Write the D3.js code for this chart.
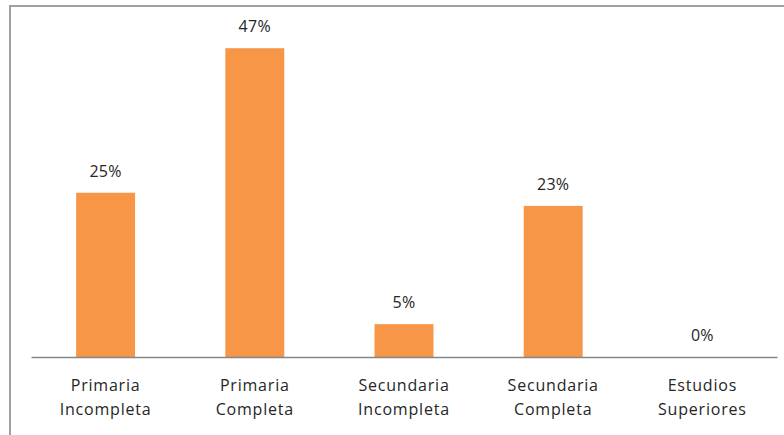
<!DOCTYPE html>
<html><head><meta charset="utf-8">
<script src="https://cdn.jsdelivr.net/npm/d3@7"></script>
<style>html,body{margin:0;padding:0;background:#fff;}svg{display:block;}</style>
</head><body>
<svg id="chart" width="784" height="435"></svg>
<script>
const categories = [["Primaria","Incompleta"],["Primaria","Completa"],["Secundaria","Incompleta"],["Secundaria","Completa"],["Estudios","Superiores"]];
const values = [25, 47, 5, 23, 0];
const valueLabels = ["25%","47%","5%","23%","0%"];

const svg = d3.select("#chart");
const baseY = 357;

// outer frame
svg.append("rect").attr("x", 10).attr("y", 6).attr("width", 800).attr("height", 500)
  .attr("fill", "none").attr("stroke", "#a0a0a0").attr("stroke-width", 2);

const x = d3.scaleBand().domain(d3.range(categories.length))
  .range([31, 777]).paddingInner(0.605).paddingOuter(0.3025);
const y = d3.scaleLinear().domain([0, 50]).range([baseY, baseY - 50 * 6.57]);

const font = "'Open Sans', 'DejaVu Sans', sans-serif";

svg.selectAll("rect.bar").data(values).enter().append("rect")
  .attr("class", "bar")
  .attr("x", (d, i) => x(i))
  .attr("width", x.bandwidth())
  .attr("y", d => y(d))
  .attr("height", d => baseY - y(d))
  .attr("fill", "#F79646");

svg.selectAll("text.val").data(values).enter().append("text")
  .attr("class", "val")
  .attr("x", (d, i) => x(i) + x.bandwidth() / 2)
  .attr("y", d => y(d) - 16)
  .attr("text-anchor", "middle")
  .attr("font-family", font).attr("font-size", 16).attr("letter-spacing", 0.3).attr("fill", "#262626")
  .text((d, i) => valueLabels[i]);

// axis
const axis = d3.axisBottom(x).tickSize(0).tickFormat("");
const gAx = svg.append("g").attr("transform", `translate(0,${baseY})`).call(axis);
gAx.select(".domain").attr("stroke", "#868686").attr("stroke-width", 1.5);

const lab = svg.selectAll("text.cat").data(categories).enter().append("text")
  .attr("class", "cat")
  .attr("x", (d, i) => x(i) + x.bandwidth() / 2)
  .attr("y", 391)
  .attr("text-anchor", "middle")
  .attr("font-family", font).attr("font-size", 16).attr("letter-spacing", 0.8).attr("fill", "#262626");
lab.each(function(d) {
  const t = d3.select(this);
  d.forEach((line, k) => {
    t.append("tspan").attr("x", t.attr("x")).attr("dy", k === 0 ? 0 : 24).text(line);
  });
});
</script>
</body></html>
